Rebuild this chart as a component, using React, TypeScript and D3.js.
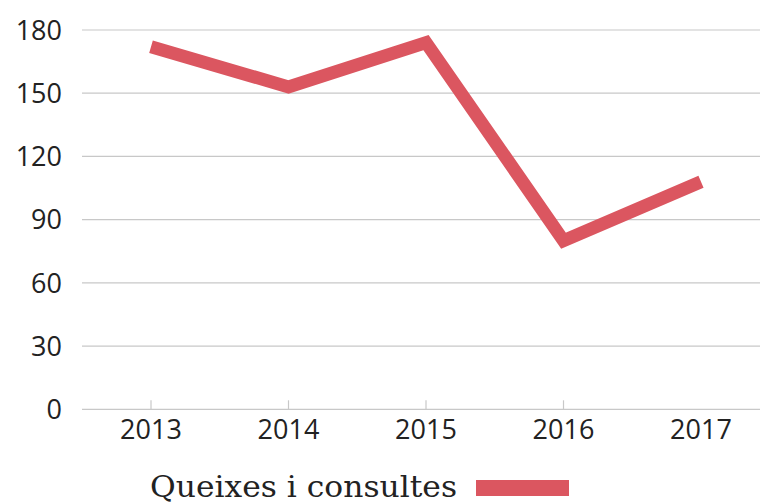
import * as d3 from 'd3';
import React, { useRef, useEffect } from 'react';

const width = 760;
const height = 503;

const years = ['2013', '2014', '2015', '2016', '2017'];
const queixes = [172, 153, 174, 80, 108];
const yTicks = [0, 30, 60, 90, 120, 150, 180];
const seriesName = 'Queixes i consultes';

const color = '#db5660';
const gridColor = '#c8c8c8';
const sans = '"Open Sans", "Noto Sans", sans-serif';

function App() {
    const ref = useRef<SVGSVGElement>(null);

    useEffect(() => {
        const svg = d3.select(ref.current);
        svg.selectAll('*').remove();

        const x = d3.scalePoint<string>()
            .domain(years)
            .range([151, 701]);

        const y = d3.scaleLinear()
            .domain([0, 180])
            .range([409.3, 30]);

        // horizontal grid + y labels
        const grid = svg.append('g');
        grid.selectAll('line')
            .data(yTicks)
            .enter()
            .append('line')
            .attr('x1', 82)
            .attr('x2', width)
            .attr('y1', d => y(d))
            .attr('y2', d => y(d))
            .attr('stroke', gridColor)
            .attr('stroke-width', 1.2);

        grid.selectAll('text')
            .data(yTicks)
            .enter()
            .append('text')
            .attr('x', 62)
            .attr('y', d => y(d))
            .attr('dy', '0.36em')
            .attr('text-anchor', 'end')
            .attr('fill', '#222')
            .style('font-family', sans)
            .style('font-size', '27px')
            .text(d => d);

        // x axis ticks (no tick on the last year in the original)
        const xa = svg.append('g');
        xa.selectAll('line')
            .data(years.slice(0, -1))
            .enter()
            .append('line')
            .attr('x1', d => x(d)!)
            .attr('x2', d => x(d)!)
            .attr('y1', y(0))
            .attr('y2', y(0) - 9)
            .attr('stroke', gridColor)
            .attr('stroke-width', 1.2);

        xa.selectAll('text')
            .data(years)
            .enter()
            .append('text')
            .attr('x', d => x(d)!)
            .attr('y', 439)
            .attr('text-anchor', 'middle')
            .attr('fill', '#222')
            .style('font-family', sans)
            .style('font-size', '27px')
            .text(d => d);

        // the line
        const line = d3.line<number>()
            .x((d, i) => x(years[i])!)
            .y(d => y(d));

        svg.append('path')
            .datum(queixes)
            .attr('d', line)
            .attr('fill', 'none')
            .attr('stroke', color)
            .attr('stroke-width', 13)
            .attr('stroke-linejoin', 'miter')
            .attr('stroke-linecap', 'butt');

        // legend
        svg.append('text')
            .attr('x', 150)
            .attr('y', 497)
            .attr('fill', '#222')
            .attr('textLength', 307)
            .attr('lengthAdjust', 'spacingAndGlyphs')
            .style('font-family', '"DejaVu Serif", serif')
            .style('font-size', '29px')
            .text(seriesName);

        svg.append('rect')
            .attr('x', 476)
            .attr('y', 480)
            .attr('width', 93)
            .attr('height', 16)
            .attr('fill', color);
    }, []);

    return (
        <svg ref={ref} width={width} height={height}
            style={{ position: 'absolute', left: 0, top: 0, background: '#fff' }} />
    );
}

export default App;
